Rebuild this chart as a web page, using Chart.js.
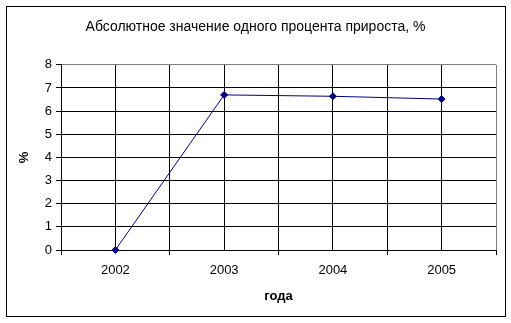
<!DOCTYPE html>
<html>
<head>
<meta charset="utf-8">
<script src="https://cdn.jsdelivr.net/npm/chart.js@4/dist/chart.umd.min.js"></script>
<style>
  body { margin: 0; background: #fff; }
  .wrap { position: relative; width: 511px; height: 323px; }
  .frame { position: absolute; left: 6px; top: 6px; width: 498px; height: 309px; border: 1px solid #000; pointer-events: none; }
  canvas { position: absolute; left: 0; top: 0; }
</style>
</head>
<body>
<div class="wrap">
  <canvas id="chart" width="511" height="323"></canvas>
  <div class="frame"></div>
</div>
<script>
// Data
const years = ['2002', '2003', '2004', '2005'];
const percentValues = [0, 6.7, 6.64, 6.52];
const yTicks = [0, 1, 2, 3, 4, 5, 6, 7, 8];

const navy = '#000080';
const fontFamily = '"Liberation Sans", Arial, sans-serif';

const ctx = document.getElementById('chart');

let growthChart = new Chart(ctx, {
  type: 'line',
  data: {
    datasets: [{
      label: 'Абсолютное значение',
      data: percentValues.map((v, i) => ({ x: i, y: v })),
      borderColor: navy,
      backgroundColor: navy,
      borderWidth: 1,
      pointStyle: 'rectRot',
      pointRadius: 3.5,
      pointHoverRadius: 3.5,
      tension: 0,
      clip: false
    }]
  },
  options: {
    responsive: false,
    animation: false,
    layout: {
      padding: { left: 15, right: 15, top: 0, bottom: 0 }
    },
    plugins: {
      legend: { display: false },
      tooltip: { enabled: false },
      title: {
        display: true,
        text: 'Абсолютное значение одного процента прироста, %',
        color: '#000',
        font: { family: fontFamily, size: 14, weight: 'normal' },
        padding: { top: 19, bottom: 29 }
      }
    },
    scales: {
      x: {
        type: 'linear',
        min: -0.5,
        max: 3.5,
        afterFit: (scale) => { scale.height = 73; },
        afterBuildTicks: (scale) => {
          const t = [];
          for (let v = -0.5; v <= 3.5; v += 0.5) t.push({ value: v });
          scale.ticks = t;
        },
        ticks: {
          autoSkip: false,
          maxRotation: 0,
          padding: 8,
          color: '#000',
          font: { family: fontFamily, size: 13 },
          callback: (value) => Number.isInteger(value) ? years[value] : ''
        },
        grid: {
          color: (c) => c.tick && c.tick.value === 3.5 ? '#808080' : '#000',
          tickColor: (c) => c.tick && Number.isInteger(c.tick.value) ? 'rgba(0,0,0,0)' : '#000',
          tickLength: 5,
          lineWidth: 1
        },
        border: { color: '#000' },
        title: {
          display: true,
          text: 'года',
          color: '#000',
          font: { family: fontFamily, size: 13, weight: 'bold' },
          padding: { top: 4, bottom: 19 }
        }
      },
      y: {
        min: 0,
        max: 8,
        afterFit: (scale) => { scale.width = 46; },
        afterBuildTicks: (scale) => {
          scale.ticks = yTicks.map(v => ({ value: v }));
        },
        ticks: {
          padding: 4,
          color: '#000',
          font: { family: fontFamily, size: 13 }
        },
        grid: {
          color: (c) => c.tick && c.tick.value === 8 ? '#808080' : '#000',
          tickColor: '#000',
          tickLength: 5,
          lineWidth: 1
        },
        border: { color: '#000' },
        title: {
          display: true,
          text: '%',
          color: '#000',
          font: { family: fontFamily, size: 13, weight: 'bold' },
          padding: { top: 2, bottom: 0 }
        }
      }
    }
  }
});
</script>
</body>
</html>
